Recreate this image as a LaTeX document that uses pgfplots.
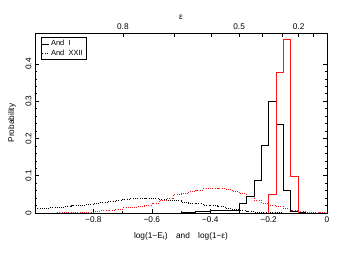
\documentclass[border=0pt]{standalone}
\usepackage{fontspec}
\setmainfont{Liberation Sans}
\usepackage{pgfplots}
\pgfplotsset{compat=1.18}
\definecolor{myred}{RGB}{255,20,20}
\begin{document}
\begin{tikzpicture}
\pgfplotsset{
  every axis/.append style={
    scale only axis, width=292pt, height=180pt,
    xmin=-1, xmax=0,
    font=\fontsize{8.3}{9}\selectfont,
    /pgf/number format/assume math mode=true,
    major tick length=4pt, minor tick length=2pt,
    tick style={black, line width=0.5pt},
    axis line style={line width=0.6pt},
  }
}
\begin{axis}[name=ax,
  ymin=0, ymax=0.483,
  xtick={-0.8,-0.6,-0.4,-0.2,0},
  xticklabels={−0.8,−0.6,−0.4,−0.2,0},
  minor x tick num=1,
  xtick pos=bottom,
  ytick={0,0.1,0.2,0.3,0.4},
  minor y tick num=4,
  yticklabel style={rotate=90},
  xlabel={log(1−E\textsubscript{t})\quad and\quad log(1−ε)},
  ylabel={Probability},
  xlabel style={yshift=-3pt},
  ylabel style={yshift=3pt},
  legend style={at={(0.0205,0.976)}, anchor=north west, draw=black,
    font=\fontsize{7.5}{8}\selectfont, inner sep=1pt, row sep=-1.8pt,
    legend cell align=left},
  legend image code/.code={\draw[#1] (0cm,0cm) -- (0.22cm,0cm);},
]
% black dotted (And XXII, E_t)
\addplot[const plot, black, line width=0.6pt, dash pattern=on 0.7pt off 1.6pt, forget plot] coordinates {
(-1.000,0.012)(-0.975,0.013)(-0.950,0.015)(-0.925,0.016)(-0.900,0.018)
(-0.875,0.020)(-0.850,0.022)(-0.825,0.024)(-0.800,0.027)(-0.775,0.029)
(-0.750,0.032)(-0.725,0.035)(-0.700,0.038)(-0.675,0.040)(-0.650,0.040)
(-0.625,0.040)(-0.600,0.039)(-0.575,0.037)(-0.550,0.035)(-0.525,0.033)
(-0.500,0.030)(-0.475,0.027)(-0.450,0.025)(-0.425,0.022)(-0.400,0.020)
(-0.375,0.017)(-0.350,0.012)(-0.325,0.009)(-0.300,0.007)(-0.275,0.005)
(-0.250,0.003)(-0.225,0.002)(-0.200,0.001)(-0.175,0.001)(-0.150,0.000)
(0,0)};
% red dotted (And XXII, e)
\addplot[const plot, myred, line width=0.6pt, dash pattern=on 0.7pt off 1.6pt, forget plot] coordinates {
(-0.925,0.001)(-0.900,0.001)(-0.875,0.002)(-0.850,0.002)(-0.825,0.003)
(-0.800,0.004)(-0.775,0.006)(-0.750,0.008)(-0.725,0.011)(-0.700,0.014)
(-0.675,0.016)(-0.650,0.019)(-0.625,0.021)(-0.600,0.026)(-0.575,0.034)
(-0.550,0.039)(-0.525,0.050)(-0.500,0.052)(-0.475,0.058)(-0.450,0.062)
(-0.425,0.065)(-0.400,0.065)(-0.375,0.065)(-0.350,0.063)(-0.325,0.058)
(-0.300,0.052)(-0.275,0.045)(-0.250,0.035)(-0.225,0.027)(-0.200,0.022)
(-0.175,0.019)(-0.150,0.013)(-0.125,0.008)(-0.100,0.005)(-0.075,0.003)
(-0.050,0.002)(-0.025,0.001)(0,0.001)};
% black solid (And I, E_t)
\addplot[const plot, black, line width=0.6pt, forget plot] coordinates {
(-0.525,0)(-0.500,0.002)(-0.475,0.003)(-0.450,0.004)(-0.425,0.005)(-0.400,0.007)
(-0.375,0.008)(-0.350,0.008)(-0.325,0.008)(-0.300,0.026)(-0.275,0.046)
(-0.250,0.088)(-0.225,0.183)(-0.200,0.301)(-0.175,0.237)(-0.150,0.061)
(-0.125,0.004)(-0.100,0.001)(-0.075,0)(0,0)};
% red solid (And I, e)
\addplot[const plot, myred, line width=0.6pt, forget plot] coordinates {
(-1,0)(-0.200,0.050)(-0.175,0.378)(-0.150,0.465)(-0.125,0.098)(-0.100,0)(0,0)};
\addlegendimage{black, line width=0.6pt}
\addlegendentry{And\ \ I}
\addlegendimage{black, line width=0.6pt, dash pattern=on 0.7pt off 1.6pt}
\addlegendentry{And\ \ XXII}
\end{axis}
\begin{axis}[
  ymin=0, ymax=1,
  axis x line*=top, axis y line=none,
  xtick={-0.69897,-0.52288,-0.39794,-0.30103,-0.22185,-0.15490,-0.09691,-0.04576},
  xticklabels={0.8,,,0.5,,,0.2,},
  xlabel={ε},
  xlabel style={yshift=-3pt},
]
\end{axis}
\path ([shift={(-35pt,-59pt)}]ax.south west) rectangle ([shift={(25pt,33pt)}]ax.north east);
\end{tikzpicture}
\end{document}
